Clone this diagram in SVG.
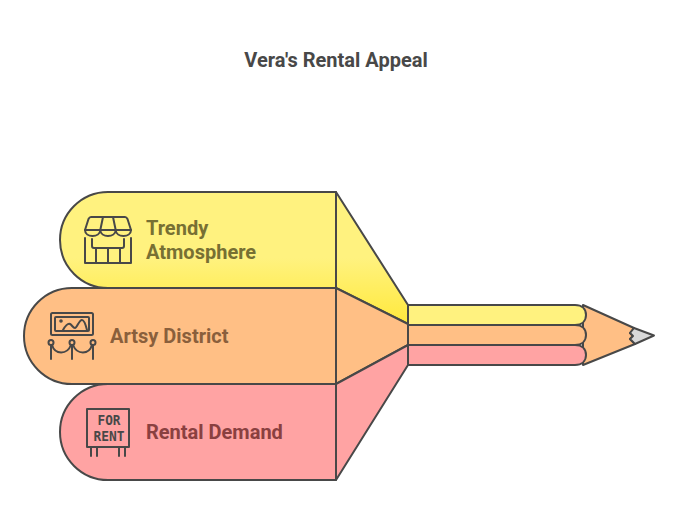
<svg xmlns="http://www.w3.org/2000/svg" width="678" height="528" viewBox="0 0 678 528">
<style>
.o{stroke:#484848;stroke-width:2;stroke-linejoin:round;stroke-linecap:round}
.i{fill:none;stroke:#484848;stroke-width:2;stroke-linejoin:round;stroke-linecap:round}
text{font-family:Roboto,"Liberation Sans",sans-serif;font-weight:700;font-size:20px}
.ic{font-family:"DejaVu Sans Mono","Liberation Mono",monospace;font-weight:700;font-size:13.500px;fill:#484848;text-anchor:middle}
</style>
<defs>
<linearGradient id="gy" gradientUnits="userSpaceOnUse" x1="0" y1="258" x2="0" y2="324"><stop offset="0" stop-color="#FFF27F"/><stop offset="1" stop-color="#FFE93C"/></linearGradient>
</defs>
<text x="336" y="67" text-anchor="middle" fill="#484848">Vera's Rental Appeal</text>

<g id="pencil">
<path class="o" d="M583 305L634 328L630 333L633 336L630 339L635 344L583 365Z" fill="#FFBF85"/>
<path class="o" d="M634 328L654 335.500L635 344L630 339L633 336L630 333Z" fill="#D9D9D9"/>
<path class="o" d="M408 305H575C582 305 586 309 586 315C586 321 582 325 575 325H408Z" fill="#FFF27F"/>
<path class="o" d="M408 325H575C582 325 586 329 586 335C586 341 582 345 575 345H408Z" fill="#FFBF85"/>
<path class="o" d="M408 345H575C582 345 586 349 586 355C586 361 582 365 575 365H408Z" fill="#FFA3A3"/>
</g>

<g id="node-trendy">
<path class="o" d="M108 192H336V288H108A48 48 0 0 1 108 192Z" fill="url(#gy)"/>
<path class="o" d="M336 192L408 305V324L336 288Z" fill="url(#gy)"/>
<g class="i">
<path d="M91 217H125C126 217 127 218 127.500 219L131 230H85L88.500 219C89 218 90 217 91 217Z"/>
<path d="M85 230C85 238 100 238 100.300 230C100.500 238 115.500 238 115.700 230C116 238 131 238 131 230"/>
<path d="M103 217L100.300 230M113 217L115.700 230"/>
<path d="M85 238V263H131V238M92 239V246C92 247.500 93 248 94 248H122C123 248 124 247.500 124 246V239"/>
<path d="M96 248V263M108 248V263M120 248V263"/>
</g>
<text x="146" y="235" fill="#777033">Trendy</text>
<text x="146" y="259" fill="#777033">Atmosphere</text>
</g>

<g id="node-artsy">
<path class="o" d="M72 288H336V384H72A48 48 0 0 1 72 288Z" fill="#FFBF85"/>
<path class="o" d="M336 288L408 324V345L336 384Z" fill="#FFBF85"/>
<g class="i">
<rect x="51" y="313" width="42" height="22" rx="1.500"/>
<rect x="55" y="317" width="34" height="14" rx="1"/>
<path d="M63 330C65 326 68 323 70 324C72 325 73 328 75 328C77 328 79 320 82 320C84 320 86 326 87 330"/>
<circle cx="61" cy="321" r="0.800"/>
<circle cx="51" cy="342.500" r="2.500"/>
<circle cx="72" cy="342.500" r="2.500"/>
<circle cx="93" cy="342.500" r="2.500"/>
<path d="M51 345V359M72 345V359M93 345V359"/>
<path d="M52 345C55 355 67 355 71 345M73 345C77 355 89 355 92 345"/>
</g>
<text x="110" y="343" fill="#8A5F3C">Artsy District</text>
</g>

<g id="node-rental">
<path class="o" d="M108 384H336V480H108A48 48 0 0 1 108 384Z" fill="#FFA3A3"/>
<path class="o" d="M336 384L408 345V365L336 480Z" fill="#FFA3A3"/>
<g class="i">
<rect x="87" y="409" width="42" height="38"/>
<path d="M91 447V456M97 447V456M119 447V456M125 447V456"/>
</g>
<text class="ic" x="109" y="425" textLength="23" lengthAdjust="spacingAndGlyphs">FOR</text>
<text class="ic" x="109" y="441" textLength="31" lengthAdjust="spacingAndGlyphs">RENT</text>
<text x="146" y="439" fill="#8A4040">Rental Demand</text>
</g>
</svg>
